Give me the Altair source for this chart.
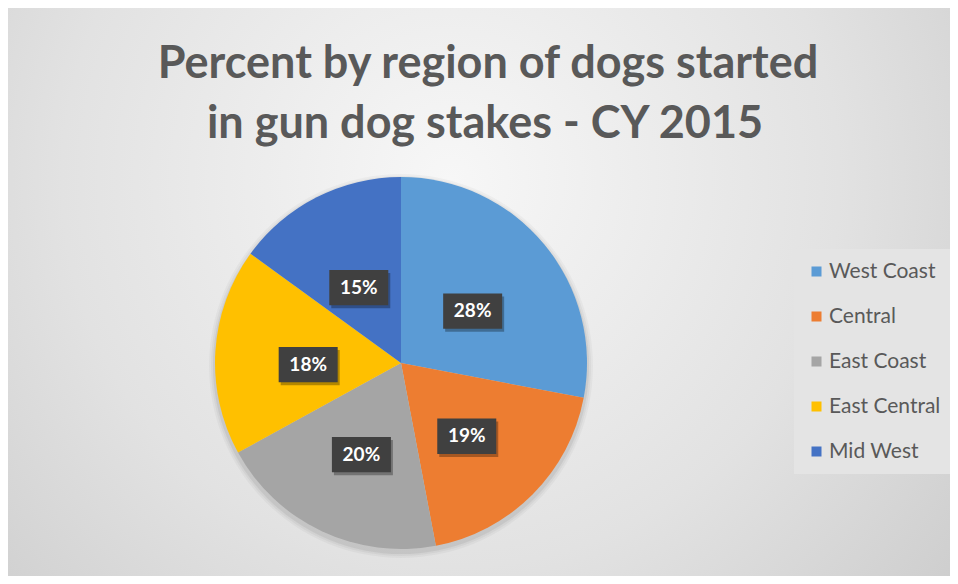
import altair as alt
import pandas as pd

# ---- data ----
regions = ["West Coast", "Central", "East Coast", "East Central", "Mid West"]
percents = [28, 19, 20, 18, 15]
colors = ["#5B9BD5", "#ED7D31", "#A5A5A5", "#FFC000", "#4472C4"]
title_lines = ["Percent by region of dogs started", "in gun dog stakes - CY 2015"]

# ---- layout (canvas pixels) ----
W, H = 942, 568
CX, CY, R = 393, 355, 186
FONT = "Lato"

df = pd.DataFrame({"region": regions, "pct": percents, "idx": list(range(len(regions)))})
one = pd.DataFrame({"a": [0]})

gradient = {
    "gradient": "radial",
    "x1": 0.47, "y1": 0.38, "r1": 0.0,
    "x2": 0.47, "y2": 0.38, "r2": 0.75,
    "stops": [
        {"offset": 0.0, "color": "#f7f7f7"},
        {"offset": 0.55, "color": "#e2e2e2"},
        {"offset": 1.0, "color": "#c9c9c9"},
    ],
}

bg = alt.Chart(one).mark_rect(fill=gradient).encode(
    x=alt.value(0), x2=alt.value(W), y=alt.value(0), y2=alt.value(H)
)

shadows = []
for dr, op in [(6, 0.03), (4, 0.04), (2, 0.06)]:
    shadows.append(
        alt.Chart(one).mark_arc(theta=0, theta2=6.2832, radius=R + dr, fill="black",
                                opacity=op).encode(x=alt.value(CX), y=alt.value(CY + 3))
    )

pie = alt.Chart(df).mark_arc(outerRadius=R).encode(
    theta=alt.Theta("pct:Q", stack=True),
    color=alt.Color(
        "region:N",
        scale=alt.Scale(domain=regions, range=colors),
        legend=alt.Legend(
            title=None, orient="none", legendX=786, legendY=241,
            symbolType="square", symbolSize=100, symbolStrokeWidth=0,
            labelFontSize=21, labelFont=FONT, labelColor="#595959",
            rowPadding=23, padding=12, fillColor="#e4e4e4", labelOffset=2,
        ),
    ),
    order=alt.Order("idx:Q"),
    x=alt.value(CX), y=alt.value(CY),
)

lab = alt.Chart(df).transform_joinaggregate(total="sum(pct)").transform_window(
    cum="sum(pct)", sort=[alt.SortField("idx")], frame=[None, 0]
).transform_calculate(
    mid="(datum.cum - datum.pct/2)/datum.total*2*PI",
    lx="0.5*sin(datum.mid)",
    ly="0.5*cos(datum.mid) - 0.04",
    label="datum.pct + '%'",
)
xs = alt.X("lx:Q", scale=alt.Scale(domain=[-1, 1], range=[CX - R, CX + R]), axis=None)
ys = alt.Y("ly:Q", scale=alt.Scale(domain=[-1, 1], range=[CY + R, CY - R]), axis=None)

box_path = "M-1,-0.6L1,-0.6L1,0.6L-1,0.6Z"
box_shadow = lab.mark_point(shape=box_path, size=3481, filled=True, fill="black",
                            opacity=0.3, strokeWidth=0, xOffset=2, yOffset=3).encode(x=xs, y=ys)
box = lab.mark_point(shape=box_path, size=3481, filled=True, fill="#404040",
                     opacity=1, strokeWidth=0).encode(x=xs, y=ys)
txt = lab.mark_text(color="white", fontSize=19, fontWeight="bold", font=FONT,
                    baseline="middle", align="center").encode(x=xs, y=ys, text="label:N")

t1 = alt.Chart(one).mark_text(fontSize=45, fontWeight="bold", font=FONT, color="#595959",
                              align="center", baseline="alphabetic").encode(
    x=alt.value(480), y=alt.value(70), text=alt.value(title_lines[0]))
t2 = alt.Chart(one).mark_text(fontSize=45, fontWeight="bold", font=FONT, color="#595959",
                              align="center", baseline="alphabetic").encode(
    x=alt.value(477), y=alt.value(130), text=alt.value(title_lines[1]))

chart = alt.layer(bg, *shadows, pie, box_shadow, box, txt, t1, t2).properties(
    width=W, height=H, autosize=alt.AutoSizeParams(type="none"), padding=0
).configure_view(stroke=None)

chart.save("out.html", embed_options={"renderer": "svg", "actions": False})
